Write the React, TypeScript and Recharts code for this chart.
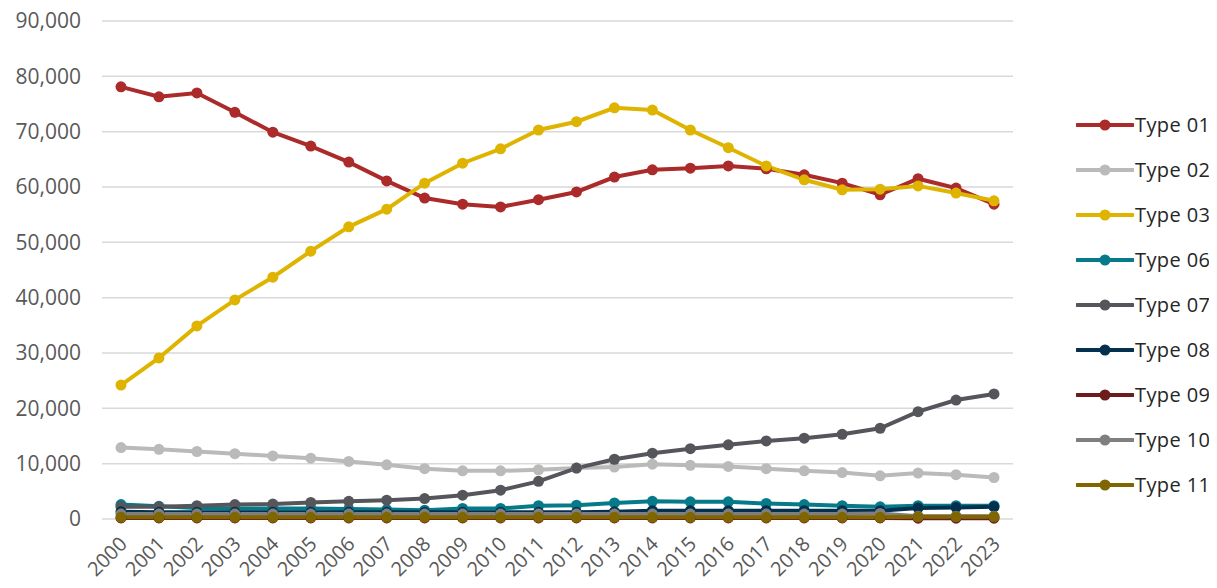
import React from 'react';
import { LineChart, Line, XAxis, YAxis, CartesianGrid } from 'recharts';

const years = [
  '2000', '2001', '2002', '2003', '2004', '2005', '2006', '2007', '2008', '2009', '2010', '2011',
  '2012', '2013', '2014', '2015', '2016', '2017', '2018', '2019', '2020', '2021', '2022', '2023',
];

const type01 = [78100, 76300, 77000, 73500, 69900, 67400, 64500, 61100, 58000, 56900, 56400, 57700, 59100, 61800, 63100, 63400, 63800, 63300, 62200, 60700, 58600, 61500, 59800, 56900];
const type02 = [12900, 12600, 12200, 11800, 11400, 11000, 10400, 9800, 9100, 8700, 8700, 8900, 9200, 9400, 9900, 9700, 9500, 9100, 8700, 8400, 7800, 8300, 8000, 7500];
const type03 = [24200, 29100, 34900, 39600, 43700, 48400, 52800, 56000, 60700, 64300, 66900, 70300, 71800, 74300, 73900, 70300, 67100, 63800, 61300, 59500, 59600, 60200, 58900, 57500];
const type06 = [2600, 2300, 2000, 1900, 1900, 1900, 1800, 1700, 1600, 1900, 1900, 2400, 2500, 2900, 3200, 3100, 3100, 2800, 2600, 2400, 2200, 2400, 2400, 2400];
const type07 = [2200, 2200, 2400, 2600, 2700, 3000, 3200, 3400, 3700, 4300, 5200, 6800, 9200, 10800, 11900, 12700, 13400, 14100, 14600, 15300, 16400, 19400, 21500, 22600];
const type08 = [1300, 1200, 1200, 1200, 1200, 1200, 1200, 1200, 1200, 1200, 1200, 1200, 1200, 1300, 1500, 1500, 1500, 1500, 1500, 1500, 1500, 2000, 2100, 2200];
const type09 = [200, 200, 200, 200, 200, 200, 200, 200, 200, 200, 200, 200, 200, 200, 200, 200, 200, 200, 200, 200, 200, 150, 150, 150];
const type10 = [900, 900, 900, 900, 900, 900, 900, 900, 900, 900, 900, 900, 900, 900, 900, 900, 900, 900, 900, 900, 1000, 500, 500, 500];
const type11 = [300, 300, 300, 300, 300, 300, 300, 300, 300, 300, 300, 300, 300, 300, 300, 300, 300, 300, 300, 300, 300, 400, 400, 400];

const yTicks = [0, 10000, 20000, 30000, 40000, 50000, 60000, 70000, 80000, 90000];

const series = [
  { key: 'Type 01', values: type01, color: '#aa2b29' },
  { key: 'Type 02', values: type02, color: '#bababa' },
  { key: 'Type 03', values: type03, color: '#dfb400' },
  { key: 'Type 06', values: type06, color: '#067a89' },
  { key: 'Type 07', values: type07, color: '#55565b' },
  { key: 'Type 08', values: type08, color: '#03304f' },
  { key: 'Type 09', values: type09, color: '#6d1b1b' },
  { key: 'Type 10', values: type10, color: '#7f7f7f' },
  { key: 'Type 11', values: type11, color: '#806600' },
];

const chartData = years.map((year, i) => {
  const row: Record<string, string | number> = { year };
  series.forEach(s => { row[s.key] = s.values[i]; });
  return row;
});

const FONT = '"Open Sans", "Liberation Sans", sans-serif';

const YearTick = ({ x, y, payload }: any) => (
  <g transform={`translate(${x + 3},${y + 14})`}>
    <text x={0} y={0} dy={6} textAnchor="end" transform="rotate(-45)" fill="#595959" fontSize={20} fontFamily={FONT}>
      {payload.value}
    </text>
  </g>
);

const SideLegend = () => (
  <div style={{ position: 'absolute', left: 1076, top: 102, display: 'flex', flexDirection: 'column', fontFamily: FONT }}>
    {series.map(s => (
      <div key={s.key} style={{ display: 'flex', alignItems: 'center', height: 45 }}>
        <svg width={58} height={14}>
          <line x1={1} y1={7} x2={57} y2={7} stroke={s.color} strokeWidth={4} strokeLinecap="round" />
          <circle cx={29} cy={7} r={5.5} fill={s.color} />
        </svg>
        <span style={{ fontSize: 20, letterSpacing: 0.4, color: '#262626', marginLeft: 1 }}>{s.key}</span>
      </div>
    ))}
  </div>
);

export default function App() {
  return (
    <div style={{ position: 'relative', width: 1217, height: 588, margin: '-8px 0 0 -8px', background: '#fff' }}>
      <LineChart width={1217} height={588} data={chartData} margin={{ top: 21, right: 204, left: 8, bottom: 0 }}>
        <CartesianGrid vertical={false} stroke="#d9d9d9" strokeWidth={1.5} />
        <XAxis
          dataKey="year"
          interval={0}
          height={69}
          padding={{ left: 19, right: 19 }}
          axisLine={false}
          tickLine={false}
          tick={<YearTick />}
        />
        <YAxis
          width={94}
          domain={[0, 90000]}
          ticks={yTicks}
          axisLine={false}
          tickLine={false}
          tickSize={19}
          tickFormatter={(v: number) => v.toLocaleString('en-US')}
          tick={{ fontSize: 21, fill: '#595959', fontFamily: FONT }}
        />
        {series.map(s => (
          <Line
            key={s.key}
            name={s.key}
            dataKey={s.key}
            type="linear"
            stroke={s.color}
            strokeWidth={4}
            dot={{ r: 5.5, fill: s.color, stroke: s.color, strokeWidth: 0 }}
            activeDot={false}
            isAnimationActive={false}
          />
        ))}
      </LineChart>
      <SideLegend />
    </div>
  );
}
